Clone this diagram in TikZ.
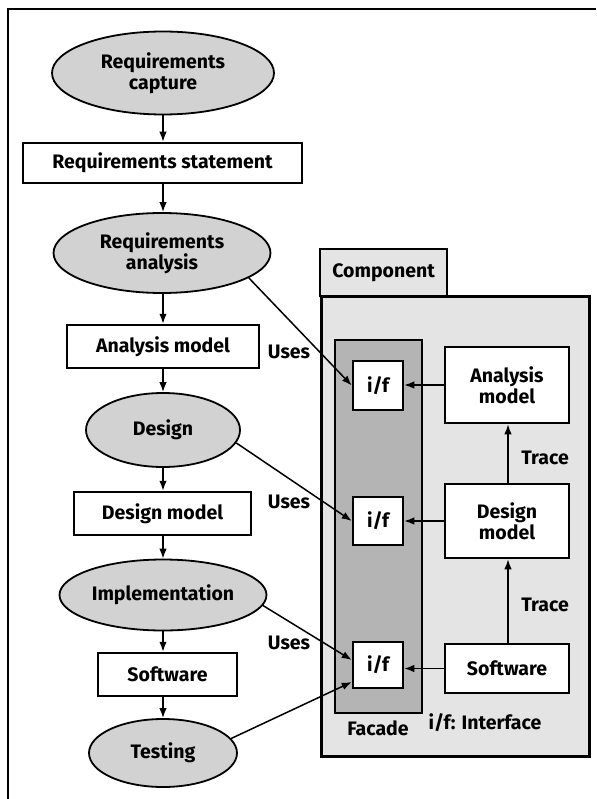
\documentclass[tikz,border=0pt]{standalone}
\usepackage{fontspec}
\setmainfont{Fira Sans}
\usetikzlibrary{shapes.geometric,arrows.meta}
\definecolor{ovalgray}{HTML}{D2D2D2}
\definecolor{compgray}{HTML}{E4E4E4}
\definecolor{facadegray}{HTML}{B4B4B4}
\begin{document}
\begin{tikzpicture}[x=1pt,y=-1pt,
  font=\bfseries\fontsize{19.5}{21}\selectfont,
  proc/.style={ellipse, draw, line width=1.8pt, fill=ovalgray, inner sep=0pt, align=center},
  prod/.style={rectangle, draw, line width=2.5pt, fill=white, inner sep=0pt, align=center},
  arr/.style={-{Latex[length=10pt,width=7.5pt]}, line width=1.5pt},
  lbl/.style={inner sep=0pt}]
\useasboundingbox (0,0) rectangle (596,799);

% outer frame (top and left edges)
\draw[line width=1.8pt] (8,799) -- (8,9) -- (596,9);

% process flow
\node[proc, minimum width=222pt, minimum height=83pt] (rc)  at (163,73)    {Requirements\\capture};
\node[prod, minimum width=279pt, minimum height=40pt] (rs)  at (162.5,163) {Requirements statement};
\node[proc, minimum width=217pt, minimum height=80pt] (ra)  at (162,253)   {Requirements\\analysis};
\node[prod, minimum width=192pt, minimum height=43pt] (am)  at (163,346.5) {Analysis model};
\node[proc, minimum width=154pt, minimum height=74pt] (des) at (163,430)   {Design};
\node[prod, minimum width=177pt, minimum height=43pt] (dm)  at (162.5,513.5) {Design model};
\node[proc, minimum width=207pt, minimum height=71pt] (imp) at (163,595)   {Implementation};
\node[prod, minimum width=139pt, minimum height=43pt] (sw)  at (167.5,674.5) {Software};
\node[proc, minimum width=148pt, minimum height=68pt] (tst) at (163,753)   {Testing};

\foreach \a/\b in {rc/rs, rs/ra, ra/am, am/des, des/dm, dm/imp, imp/sw, sw/tst}
  \draw[arr] (\a.south -| 163,0) -- (163,0 |- \b.north);

% component
\node[draw, line width=2.2pt, fill=compgray, minimum width=127pt, minimum height=47pt,
      anchor=north west, inner sep=0pt] (tab) at (319,248) {Component};
\node[draw, line width=2.5pt, fill=compgray, minimum width=268pt, minimum height=460pt,
      anchor=north west, inner sep=0pt] (comp) at (320,295) {};
\node[draw, line width=1.5pt, fill=facadegray, minimum width=87pt, minimum height=373pt,
      anchor=north west, inner sep=0pt] (fac) at (334,339) {};

\node[prod, minimum width=50pt, minimum height=49pt] (if1) at (378,385.5) {i/f};
\node[prod, minimum width=50pt, minimum height=48pt] (if2) at (378,521)   {i/f};
\node[prod, minimum width=50pt, minimum height=46pt] (if3) at (378,665)   {i/f};

\node[prod, minimum width=124pt, minimum height=76pt] (am2) at (507,385)   {Analysis\\model};
\node[prod, minimum width=124pt, minimum height=74pt] (dm2) at (507,521)   {Design\\model};
\node[prod, minimum width=124pt, minimum height=49pt] (sw2) at (507,668.5) {Software};

\draw[arr] (am2.west) -- (if1.east |- am2.west);
\draw[arr] (dm2.west) -- (if2.east |- dm2.west);
\draw[arr] (sw2.west) -- (if3.east |- sw2.west);
\draw[arr] (dm2.north -| 508,0) -- (508,0 |- am2.south);
\draw[arr] (sw2.north -| 508,0) -- (508,0 |- dm2.south);

\node[lbl] (tr1) at (545,458) {Trace};
\node[lbl] (tr2) at (545,605) {Trace};
\node[lbl] (facl) at (378,728) {Facade};
\node[lbl] (ifl) at (485,723) {i/f: Interface};

% uses relations
\node[lbl] (u1) at (289,352) {Uses};
\node[lbl] (u2) at (289,502) {Uses};
\node[lbl] (u3) at (289,643) {Uses};

\draw[arr] (ra.-16) -- (if1.west);
\draw[arr] (des.-10) -- (if2.west);
\draw[arr] (imp.-6) -- ([yshift=5pt]if3.west);
\draw[arr] (tst.12) -- ([yshift=-17pt]if3.west);
\end{tikzpicture}
\end{document}
